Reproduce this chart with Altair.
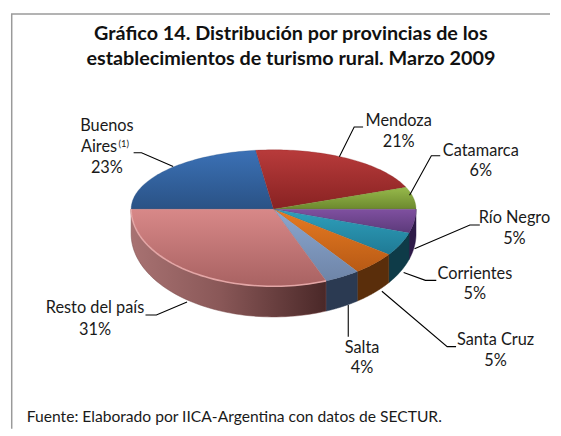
import math
import altair as alt

# ---- data ----
names = ["Buenos Aires", "Mendoza", "Catamarca", "Río Negro", "Corrientes", "Santa Cruz", "Salta", "Resto del país"]
shares = [23, 21, 6, 5, 5, 5, 4, 31]
tops = ["#3b71b6", "#b83b3b", "#97b94b", "#7f50a0", "#2fa0bc", "#e77b22", "#8ca7d0", "#d88888"]
bottoms = ["#2a5285", "#882222", "#6c892e", "#5c3a7a", "#1f7a95", "#b85a15", "#6e85a8", "#a86262"]
walls = ["#2e1a48", "#2e1a48", "#2e1a48", "#2e1a48", "#0e3b48", "#5a2e0b", "#2b3a52", None]

title_lines = ["Gráfico 14. Distribución  por provincias  de los",
               "establecimientos de turismo rural. Marzo  2009"]
source = "Fuente: Elaborado por IICA-Argentina con datos de SECTUR."

# ---- layout (page pixels; the chart origin is at 8,8) ----
OX, OY = 8, 8
CX, CY = 273.5 - OX, 206 - OY
RX, RY_BACK, RY_FRONT = 144, 60, 78
DEPTH, RY_BASE = 25, 84
W, H = 545, 420


def top_pt(a):
    r = math.radians(a)
    c = math.cos(r)
    return [CX + RX * math.sin(r), CY - (RY_BACK if c > 0 else RY_FRONT) * c]


def base_pt(a):
    r = math.radians(a)
    return [CX + RX * math.sin(r), CY + DEPTH - RY_BASE * math.cos(r)]


def feature(ring):
    return {"type": "Feature", "properties": {}, "geometry": {"type": "Polygon", "coordinates": [ring + [ring[0]]]}}


proj = alt.Projection(type="identity", scale=1, translate=[0, 0])


def grad(c1, c2):
    return alt.LinearGradient(
        gradient="linear",
        stops=[alt.GradientStop(color=c1, offset=0), alt.GradientStop(color=c2, offset=1)],
        x1=0, y1=0, x2=0, y2=1,
    )


def steps(a0, a1, n=60):
    return [a0 + (a1 - a0) * i / n for i in range(n + 1)]


def xy():
    return dict(x=alt.X("x:Q", scale=None), y=alt.Y("y:Q", scale=None))


layers = []

# frame: only the top and left edges show in the picture
frame_rows = [{"x": W, "y": 0.75, "o": 0}, {"x": 0.75, "y": 0.75, "o": 1}, {"x": 0.75, "y": H, "o": 2}]
layers.append(
    alt.Chart(alt.Data(values=frame_rows)).mark_line(color="#9a9a9a", strokeWidth=1.5).encode(order="o:Q", **xy())
)

# slice angles: clockwise from the left point of the ellipse
total = sum(shares)
angles = [270.0]
for s in shares:
    angles.append(angles[-1] + 360.0 * s / total)

# side wall
for i, (a0, a1) in enumerate(zip(angles[:-1], angles[1:])):
    lo, hi = max(a0 - 360, 90.0), min(a1 - 360, 270.0)
    if hi <= lo:
        continue
    ang = steps(lo, hi)
    ring = [top_pt(a) for a in ang] + [base_pt(a) for a in reversed(ang)]
    if walls[i] is None:
        fill = alt.LinearGradient(
            gradient="linear",
            stops=[alt.GradientStop(color="#a87272", offset=0),
                   alt.GradientStop(color="#8a5858", offset=0.45),
                   alt.GradientStop(color="#4a2828", offset=1)],
            x1=0, y1=0, x2=1, y2=0,
        )
        stroke = "#7a4a4a"
    else:
        fill = walls[i]
        stroke = walls[i]
    layers.append(
        alt.Chart(alt.Data(values=[feature(ring)])).mark_geoshape(fill=fill, stroke=stroke, strokeWidth=0.5).project(**proj.to_dict())
    )

# top face
for i, (a0, a1) in enumerate(zip(angles[:-1], angles[1:])):
    ring = [[CX, CY]] + [top_pt(a) for a in steps(a0, a1)]
    layers.append(
        alt.Chart(alt.Data(values=[feature(ring)])).mark_geoshape(
            fill=grad(tops[i], bottoms[i]), stroke=bottoms[i], strokeWidth=0.3
        ).project(**proj.to_dict())
    )

# lighter bevel along the front of the largest slice
rim = [{"x": p[0], "y": p[1], "o": k} for k, p in enumerate(top_pt(a) for a in steps(angles[-2] - 360, 270.0))]
layers.append(
    alt.Chart(alt.Data(values=rim)).mark_line(color="#e3a6a6", strokeWidth=1.6).encode(order="o:Q", **xy())
)

# leader lines (page pixels)
leaders = [
    [(132, 149), (140, 149), (172, 163)],
    [(340, 153), (355, 123), (364, 123)],
    [(411, 192), (433, 152), (442, 152)],
    [(416, 246), (472, 222), (482, 222)],
    [(405, 270), (427, 278), (438, 278)],
    [(383, 289), (449, 345), (458, 345)],
    [(349, 303), (349, 335)],
    [(144, 313), (155, 313), (186, 300)],
]
rows = []
for n, pts in enumerate(leaders):
    for k, (x, y) in enumerate(pts):
        rows.append({"x": x - OX, "y": y - OY, "g": n, "o": k})
layers.append(
    alt.Chart(alt.Data(values=rows)).mark_line(color="#000000", strokeWidth=1.1).encode(
        detail="g:N", order="o:Q", **xy()
    )
)

# labels: name lines, then the share (page pixels)
label_pos = [(105, 122), (400, 117), (483, 147), (517, 215), (477, 272), (498, 338), (363, 346), (93, 306)]
share_dy = [42, 21, 21, 21, 20, 22, 21, 22]
texts = []
for name, s, (x, y), dy in zip(names, shares, label_pos, share_dy):
    if name == "Buenos Aires":
        texts.append({"t": "Buenos", "x": x, "y": y})
        texts.append({"t": "Aires", "x": x - 8, "y": y + 21})
    else:
        texts.append({"t": name, "x": x, "y": y})
    texts.append({"t": f"{s}%", "x": x, "y": y + dy})
for r in texts:
    r["x"] -= OX
    r["y"] -= OY
layers.append(
    alt.Chart(alt.Data(values=texts)).mark_text(font="Lato", fontSize=16.5, color="#1a1a1a", align="center", baseline="middle").encode(
        text="t:N", **xy()
    )
)
layers.append(
    alt.Chart(alt.Data(values=[{"t": "(1)", "x": 122 - OX, "y": 140 - OY}])).mark_text(
        font="Lato", fontSize=9.5, color="#1a1a1a", align="center", baseline="middle"
    ).encode(text="t:N", **xy())
)

# title
title_rows = [{"t": title_lines[0], "x": 291 - OX, "y": 29.5 - OY}, {"t": title_lines[1], "x": 291 - OX, "y": 54.5 - OY}]
layers.append(
    alt.Chart(alt.Data(values=title_rows)).mark_text(font="Lato", fontSize=20, fontWeight="bold", color="#111111", align="center", baseline="middle").encode(
        text="t:N", **xy()
    )
)
# source
layers.append(
    alt.Chart(alt.Data(values=[{"t": source, "x": 24 - OX, "y": 416 - OY}])).mark_text(font="Lato", fontSize=15.8, color="#1a1a1a", align="left", baseline="middle").encode(
        text="t:N", **xy()
    )
)

chart = alt.layer(*layers).properties(width=W, height=H, padding=0).configure_view(stroke=None)
chart.save("out.html", embed_options={"renderer": "svg", "actions": False})
